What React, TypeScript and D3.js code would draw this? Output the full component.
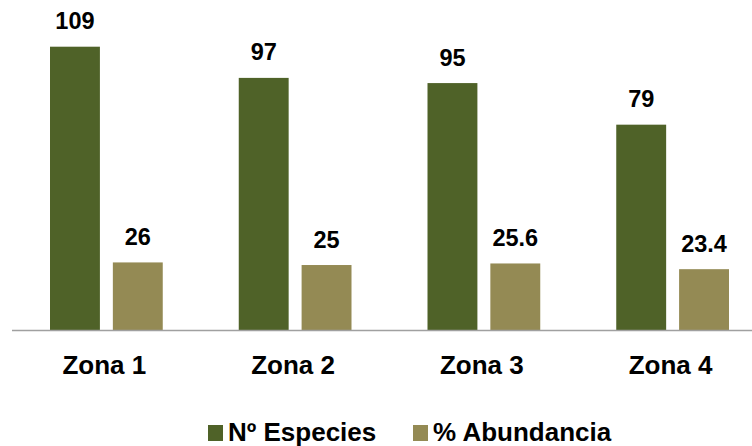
import React from "react";
import * as d3 from "d3";

const categories = ["Zona 1", "Zona 2", "Zona 3", "Zona 4"];
const seriesNames = ["Nº Especies", "% Abundancia"];
const especies = [109, 97, 95, 79];
const abundancia = [26, 25, 25.6, 23.4];
const valueLabels = [["109", "97", "95", "79"], ["26", "25", "25.6", "23.4"]];
const colors = ["#4f6228", "#948a54"];

const W = 752;
const H = 446;
const FONT = "'Liberation Sans', Arial, sans-serif";

export default function App() {
  const series = [especies, abundancia];
  const baseY = 330;
  const x0 = d3.scaleBand<string>().domain(categories).range([12, 767]).paddingInner(0).paddingOuter(0);
  const bw = x0.bandwidth();
  const x1 = d3.scaleBand<string>().domain(seriesNames).range([38, bw - 38]).paddingInner(0.206).paddingOuter(0);
  const y = d3.scaleLinear().domain([0, 109]).range([baseY, 46.7]);

  return (
    <svg width={W} height={H} style={{ position: "absolute", left: 0, top: 0 }}>
      <rect x={0} y={0} width={W} height={H} fill="#fff" />
      {categories.map((c, ci) => (
        <g key={c}>
          {series.map((vals, si) => {
            const bx = (x0(c) as number) + (x1(seriesNames[si]) as number);
            const top = y(vals[ci]);
            return (
              <g key={si}>
                <rect x={bx} y={top} width={x1.bandwidth()} height={baseY - top} fill={colors[si]} />
                <text
                  x={bx + x1.bandwidth() / 2}
                  y={top - 17.5}
                  textAnchor="middle"
                  fontFamily={FONT}
                  fontWeight="bold"
                  fontSize={23.5}
                  fill="#000"
                >
                  {valueLabels[si][ci]}
                </text>
              </g>
            );
          })}
          <text
            x={(x0(c) as number) + bw / 2 - 2}
            y={374}
            textAnchor="middle"
            fontFamily={FONT}
            fontWeight="bold"
            fontSize={26}
            fill="#000"
          >
            {c}
          </text>
        </g>
      ))}
      <line x1={12} x2={W} y1={baseY + 0.5} y2={baseY + 0.5} stroke="#a0a0a0" strokeWidth={1.5} />
      {seriesNames.map((s, i) => {
        const lx = i === 0 ? 208 : 413;
        return (
          <g key={s}>
            <rect x={lx} y={425} width={15} height={16} fill={colors[i]} />
            <text x={lx + 20} y={441} fontFamily={FONT} fontWeight="bold" fontSize={26} fill="#000">
              {s}
            </text>
          </g>
        );
      })}
    </svg>
  );
}
